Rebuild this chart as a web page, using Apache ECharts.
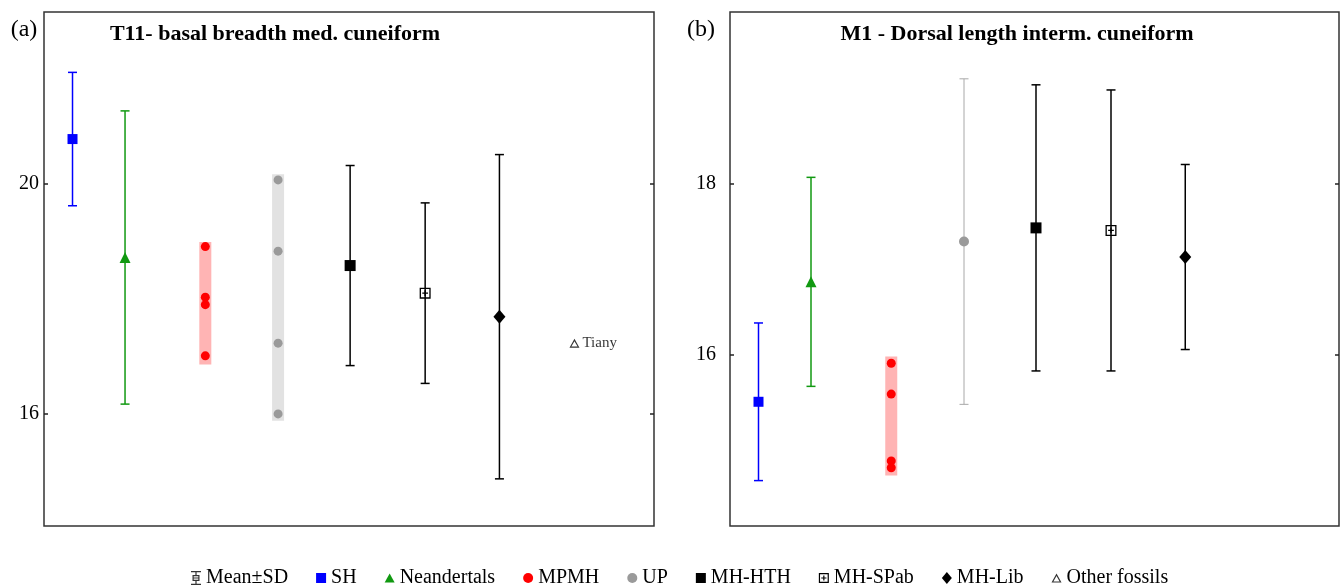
<!DOCTYPE html>
<html>
<head>
<meta charset="utf-8">
<script src="https://cdn.jsdelivr.net/npm/echarts@6.0.0/dist/echarts.min.js"></script>
<style>
  html, body { margin: 0; padding: 0; background: #fff; }
  #chart { width: 1340px; height: 585px; }
</style>
</head>
<body>
<div id="chart"></div>
<script>
// groups, in plotting order
const groups = ['SH', 'Neandertals', 'MPMH', 'UP', 'MH-HTH', 'MH-SPab', 'MH-Lib'];
const groupSlot = [0.38, 1.08, 2.15, 3.12, 4.08, 5.08, 6.07];
const otherNames = ['Tiany'];
const otherSlot = [7.07];

// (a) T11 - basal breadth med. cuneiform
const t11Mean = [20.78, 18.72, null, null, 18.58, 18.10, 17.69];
const t11Sd = [1.16, 2.55, null, null, 1.74, 1.57, 2.82];
const t11Mpmh = [18.91, 18.03, 17.90, 17.01];
const t11MpmhRange = [16.86, 18.99];
const t11Up = [20.07, 18.83, 17.23, 16.00];
const t11UpRange = [15.88, 20.17];
const t11Other = [17.23];
const t11Ticks = [16, 20];

// (b) M1 - Dorsal length interm. cuneiform
const m1Mean = [15.45, 16.85, null, 17.32, 17.48, 17.45, 17.14];
const m1Sd = [0.92, 1.22, null, 1.90, 1.67, 1.64, 1.08];
const m1Mpmh = [15.90, 15.54, 14.76, 14.68];
const m1MpmhRange = [14.59, 15.98];
const m1Ticks = [16, 18];

const FONT = '"Liberation Serif", "Times New Roman", serif';

// symbols
const squarePath = 'path://M0,0H10V10H0Z';
const triPath = 'path://M5,0L10,9H0Z';
const triOpenPath = 'path://M5,0L10,9H0Z M5,2.6L1.9,7.9H8.1Z';
const spabPath = 'path://M0,0H10V10H0Z M1.2,1.2V8.8H8.8V1.2Z M4.4,2.4H5.6V4.4H7.6V5.6H5.6V7.6H4.4V5.6H2.4V4.4H4.4Z';
const meanSdPath = 'path://M0,0H10V1.2H0Z M4.4,1.2H5.6V4H4.4Z M1.5,4H8.5V10H1.5Z M2.7,5.2V8.8H7.3V5.2Z M2.7,6.4H7.3V7.6H2.7Z M4.4,10H5.6V12.8H4.4Z M0,12.8H10V14H0Z';

const groupColor = ['#0000ff', '#119911', '#ff0000', '#9a9a9a', '#000000', '#000000', '#000000'];
const groupSymbol = ['rect', 'triangle', 'circle', 'circle', 'rect', spabPath, 'diamond'];
const groupSize = [10, 11, 9, 10, 11, 11, [12, 14]];

function errBar(lineWidth) {
  return function (params, api) {
    const x = api.value(0);
    const top = api.coord([x, api.value(2)]);
    const bot = api.coord([x, api.value(1)]);
    const cap = 4.5;
    const style = { stroke: api.visual('color'), lineWidth: lineWidth };
    return {
      type: 'group',
      children: [
        { type: 'line', shape: { x1: top[0], y1: top[1], x2: bot[0], y2: bot[1] }, style: style },
        { type: 'line', shape: { x1: top[0] - cap, y1: top[1], x2: top[0] + cap, y2: top[1] }, style: style },
        { type: 'line', shape: { x1: bot[0] - cap, y1: bot[1], x2: bot[0] + cap, y2: bot[1] }, style: style }
      ]
    };
  };
}

function band(params, api) {
  const x = api.value(0);
  const top = api.coord([x, api.value(2)]);
  const bot = api.coord([x, api.value(1)]);
  return {
    type: 'rect',
    shape: { x: top[0] - 6, y: top[1], width: 12, height: bot[1] - top[1] },
    style: { fill: api.visual('color') }
  };
}

function panelSeries(gi, mean, sd, mpmh, mpmhRange, up, upRange) {
  const s = [];
  const axes = { xAxisIndex: gi, yAxisIndex: gi * 2 };
  groups.forEach(function (g, i) {
    if (mean[i] == null) return;
    s.push(Object.assign({
      name: g, type: 'scatter', z: 4,
      symbol: groupSymbol[i], symbolSize: groupSize[i],
      itemStyle: { color: groupColor[i], opacity: 1 },
      data: [[groupSlot[i], mean[i]]]
    }, axes));
    s.push(Object.assign({
      name: g, type: 'custom', z: 3,
      renderItem: errBar(i === 3 ? 1 : 1.5),
      itemStyle: { color: i === 3 ? '#a8a8a8' : groupColor[i] },
      data: [[groupSlot[i], mean[i] - sd[i], mean[i] + sd[i]]]
    }, axes));
  });
  const idxM = groups.indexOf('MPMH');
  s.push(Object.assign({
    name: 'MPMH', type: 'scatter', z: 4, symbol: 'circle', symbolSize: 9,
    itemStyle: { color: '#ff0000', opacity: 1 },
    data: mpmh.map(function (v) { return [groupSlot[idxM], v]; })
  }, axes));
  s.push(Object.assign({
    name: 'MPMH', type: 'custom', z: 1, renderItem: band,
    itemStyle: { color: '#ffb4b4' },
    data: [[groupSlot[idxM], mpmhRange[0], mpmhRange[1]]]
  }, axes));
  if (up) {
    const idxU = groups.indexOf('UP');
    s.push(Object.assign({
      name: 'UP', type: 'scatter', z: 4, symbol: 'circle', symbolSize: 9,
      itemStyle: { color: '#9a9a9a', opacity: 1 },
      data: up.map(function (v) { return [groupSlot[idxU], v]; })
    }, axes));
    s.push(Object.assign({
      name: 'UP', type: 'custom', z: 1, renderItem: band,
      itemStyle: { color: '#e2e2e2' },
      data: [[groupSlot[idxU], upRange[0], upRange[1]]]
    }, axes));
  }
  return s;
}

function yAxes(gi, min, max, ticks, margin) {
  const base = {
    gridIndex: gi, type: 'value', min: min, max: max,
    axisLine: { show: false }, splitLine: { show: false },
    axisTick: { show: true, inside: true, length: 4, customValues: ticks, lineStyle: { color: '#222', width: 1.5 } }
  };
  return [
    Object.assign({}, base, {
      position: 'left',
      axisLabel: { customValues: ticks, margin: margin, fontFamily: FONT, fontSize: 20, color: '#000' }
    }),
    Object.assign({}, base, { position: 'right', axisLabel: { show: false } })
  ];
}

const series = []
  .concat(panelSeries(0, t11Mean, t11Sd, t11Mpmh, t11MpmhRange, t11Up, t11UpRange))
  .concat(panelSeries(1, m1Mean, m1Sd, m1Mpmh, m1MpmhRange, null, null));

series.push({
  name: 'Other fossils', type: 'scatter', xAxisIndex: 0, yAxisIndex: 0, z: 4,
  symbol: triOpenPath, symbolSize: [10, 9],
  itemStyle: { color: '#000' },
  label: {
    show: true, position: 'right', distance: 3,
    formatter: function (p) { return otherNames[p.dataIndex]; },
    fontFamily: FONT, fontSize: 15, color: '#000'
  },
  data: otherSlot.map(function (x, i) { return [x, t11Other[i]]; })
});
series.push({ name: 'Mean±SD', type: 'scatter', xAxisIndex: 0, yAxisIndex: 0, itemStyle: { color: '#000' }, data: [] });

const chart = echarts.init(document.getElementById('chart'));
chart.setOption({
  animation: false,
  backgroundColor: '#fff',
  grid: [
    { left: 44, top: 12, width: 610, height: 514, show: true, borderColor: '#333', borderWidth: 1.5 },
    { left: 730, top: 12, width: 609, height: 514, show: true, borderColor: '#333', borderWidth: 1.5 }
  ],
  xAxis: [
    { gridIndex: 0, type: 'value', min: 0, max: 8.13, show: false },
    { gridIndex: 1, type: 'value', min: 0, max: 8.12, show: false }
  ],
  yAxis: yAxes(0, 14.05, 22.99, t11Ticks, 5).concat(yAxes(1, 14, 20, m1Ticks, 14)),
  legend: {
    left: 186, top: 563,
    itemWidth: 10, itemHeight: 15, itemGap: 28,
    selectedMode: false,
    textStyle: { fontFamily: FONT, fontSize: 20, color: '#000' },
    data: [
      { name: 'Mean±SD', icon: meanSdPath, itemStyle: { color: '#000' } },
      { name: 'SH', icon: squarePath, itemStyle: { color: '#0000ff' } },
      { name: 'Neandertals', icon: triPath, itemStyle: { color: '#119911' } },
      { name: 'MPMH', icon: 'circle', itemStyle: { color: '#ff0000' } },
      { name: 'UP', icon: 'circle', itemStyle: { color: '#9a9a9a' } },
      { name: 'MH-HTH', icon: squarePath, itemStyle: { color: '#000' } },
      { name: 'MH-SPab', icon: spabPath, itemStyle: { color: '#000' } },
      { name: 'MH-Lib', icon: 'path://M5,0L10,6L5,12L0,6Z', itemStyle: { color: '#000' } },
      { name: 'Other fossils', icon: triOpenPath, itemStyle: { color: '#000' } }
    ]
  },
  graphic: [
    { type: 'text', x: 24, y: 30, style: { text: '(a)', font: '24px ' + FONT, fill: '#000', textAlign: 'center', textVerticalAlign: 'middle' } },
    { type: 'text', x: 701, y: 30, style: { text: '(b)', font: '24px ' + FONT, fill: '#000', textAlign: 'center', textVerticalAlign: 'middle' } },
    { type: 'text', x: 275, y: 34, style: { text: 'T11- basal breadth med. cuneiform', font: 'bold 22px ' + FONT, fill: '#000', textAlign: 'center', textVerticalAlign: 'middle' } },
    { type: 'text', x: 1017, y: 34, style: { text: 'M1 - Dorsal length interm. cuneiform', font: 'bold 22px ' + FONT, fill: '#000', textAlign: 'center', textVerticalAlign: 'middle' } }
  ],
  series: series
});
</script>
</body>
</html>
